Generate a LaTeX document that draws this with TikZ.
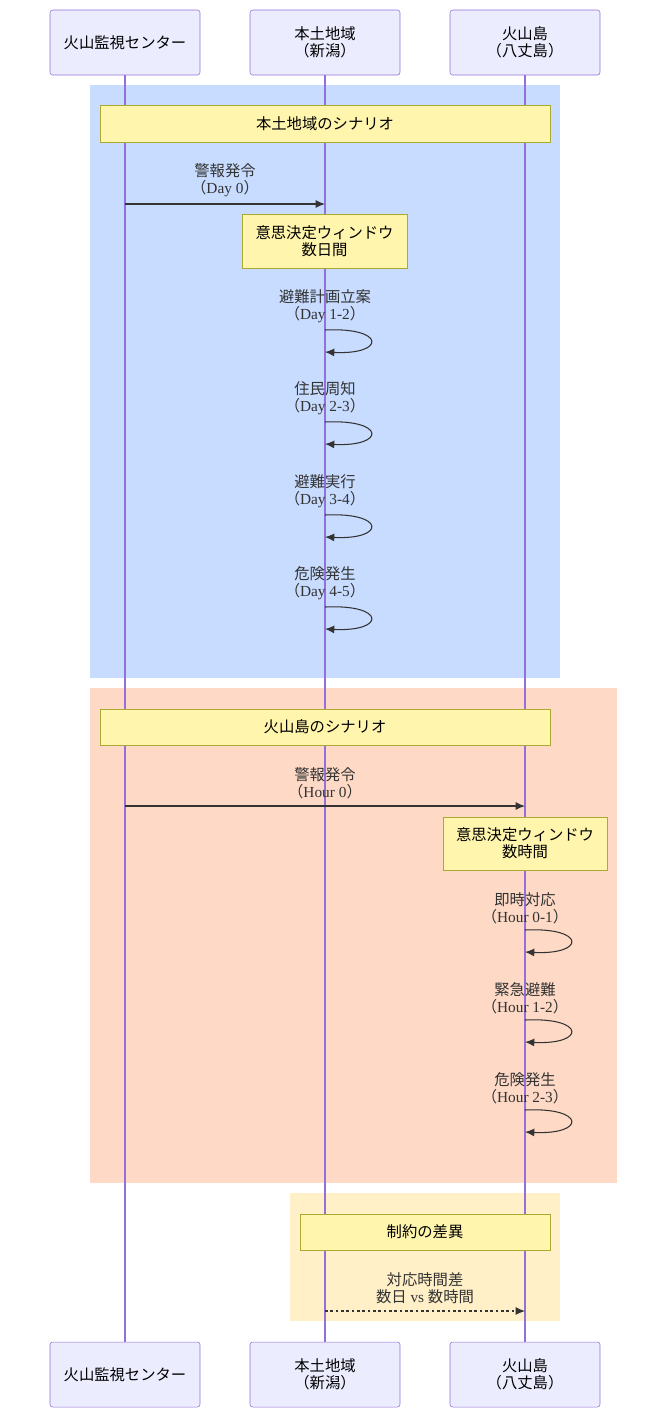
\documentclass[tikz,border=0pt]{standalone}
\usepackage{fontspec}
\setmainfont{Liberation Serif}
\newfontfamily\cjk{Noto Sans CJK JP}
\usetikzlibrary{arrows.meta}
\newcommand{\jp}[1]{{\cjk #1}}
\newcommand{\pl}[1]{\jp{（}#1\jp{）}}
\definecolor{actfill}{HTML}{ECECFF}
\definecolor{actline}{HTML}{9370DB}
\definecolor{notefill}{HTML}{FFF5AD}
\definecolor{noteline}{HTML}{AAAA33}
\definecolor{bgblue}{HTML}{C8DCFF}
\definecolor{bgorange}{HTML}{FEDAC6}
\definecolor{bgyellow}{HTML}{FFF0C8}
\definecolor{txt}{HTML}{333333}
\begin{document}
\begin{tikzpicture}[x=0.75pt,y=-0.75pt,
 actor/.style={draw=actline,fill=actfill,rounded corners=2pt,minimum width=112.5pt,minimum height=48.75pt,align=center,font=\cjk\fontsize{11.5}{12.5}\selectfont,inner sep=0},
 note/.style={draw=noteline,fill=notefill,align=center,font=\cjk\fontsize{11.5}{12.5}\selectfont,inner sep=0},
 life/.style={draw=actline,line width=0.8pt},
 msg/.style={draw=txt,line width=0.8pt,-{Latex[length=7pt,width=6pt]}},
 lbl/.style={align=center,font=\fontsize{11.5}{12.5}\selectfont,text=txt,inner sep=0}]
\useasboundingbox (0,0) rectangle (668,1418);
\fill[bgblue] (90,85) rectangle (560,678);
\fill[bgorange] (90,688) rectangle (617,1183);
\fill[bgyellow] (290,1193) rectangle (560,1321);
\node[actor] (a1) at (125,42.5) {火山監視センター};
\node[actor] (a2) at (325,42.5) {本土地域\\（新潟）};
\node[actor] (a3) at (525,42.5) {火山島\\（八丈島）};
\node[actor] (b1) at (125,1374.5) {火山監視センター};
\node[actor] (b2) at (325,1374.5) {本土地域\\（新潟）};
\node[actor] (b3) at (525,1374.5) {火山島\\（八丈島）};
\draw[life] (a1) -- (b1);
\draw[life] (a2) -- (b2);
\draw[life] (a3) -- (b3);
% blue section
\node[note,minimum width=337.5pt,minimum height=27.75pt] (n1) at (325,123.5) {本土地域のシナリオ};
\coordinate (s1) at (125,204); \coordinate (e1) at (325,204);
\node[lbl] (l1) at (225,180) {\jp{警報発令}\\\pl{Day 0}};
\draw[msg] (s1) -- (e1);
\node[note,minimum width=123.75pt,minimum height=40.5pt] (n2) at (324.5,241) {意思決定ウィンドウ\\数日間};
\foreach \y/\t/\d [count=\i] in {330/避難計画立案/Day 1-2,422/住民周知/Day 2-3,515/避難実行/Day 3-4,607/危険発生/Day 4-5}{
 \node[lbl] (m\i) at (325,\y-24) {\jp{\t}\\\pl{\d}};
 \coordinate (p\i) at (325,\y); \coordinate (q\i) at (325,\y+22);
 \draw[msg] (p\i) .. controls (386,\y-3) and (386,\y+25) .. (q\i);
}
% orange section
\node[note,minimum width=337.5pt,minimum height=27pt] (n3) at (325,727) {火山島のシナリオ};
\coordinate (s2) at (125,806); \coordinate (e2) at (525,806);
\node[lbl] (l2) at (325,783) {\jp{警報発令}\\\pl{Hour 0}};
\draw[msg] (s2) -- (e2);
\node[note,minimum width=123pt,minimum height=39.75pt] (n4) at (525,843.5) {意思決定ウィンドウ\\数時間};
\foreach \y/\t/\d [count=\i] in {930/即時対応/Hour 0-1,1020/緊急避難/Hour 1-2,1110/危険発生/Hour 2-3}{
 \node[lbl] (o\i) at (525,\y-22) {\jp{\t}\\\pl{\d}};
 \coordinate (r\i) at (525,\y); \coordinate (t\i) at (525,\y+22);
 \draw[msg] (r\i) .. controls (586,\y-3) and (586,\y+25) .. (t\i);
}
% yellow section
\node[note,minimum width=187.5pt,minimum height=27pt] (n5) at (425,1232) {制約の差異};
\coordinate (s3) at (325,1311); \coordinate (e3) at (525,1311);
\node[lbl] (l3) at (425,1288) {\jp{対応時間差}\\\jp{数日} vs \jp{数時間}};
\draw[msg,dash pattern=on 2pt off 2pt] (s3) -- (e3);
\end{tikzpicture}
\end{document}
